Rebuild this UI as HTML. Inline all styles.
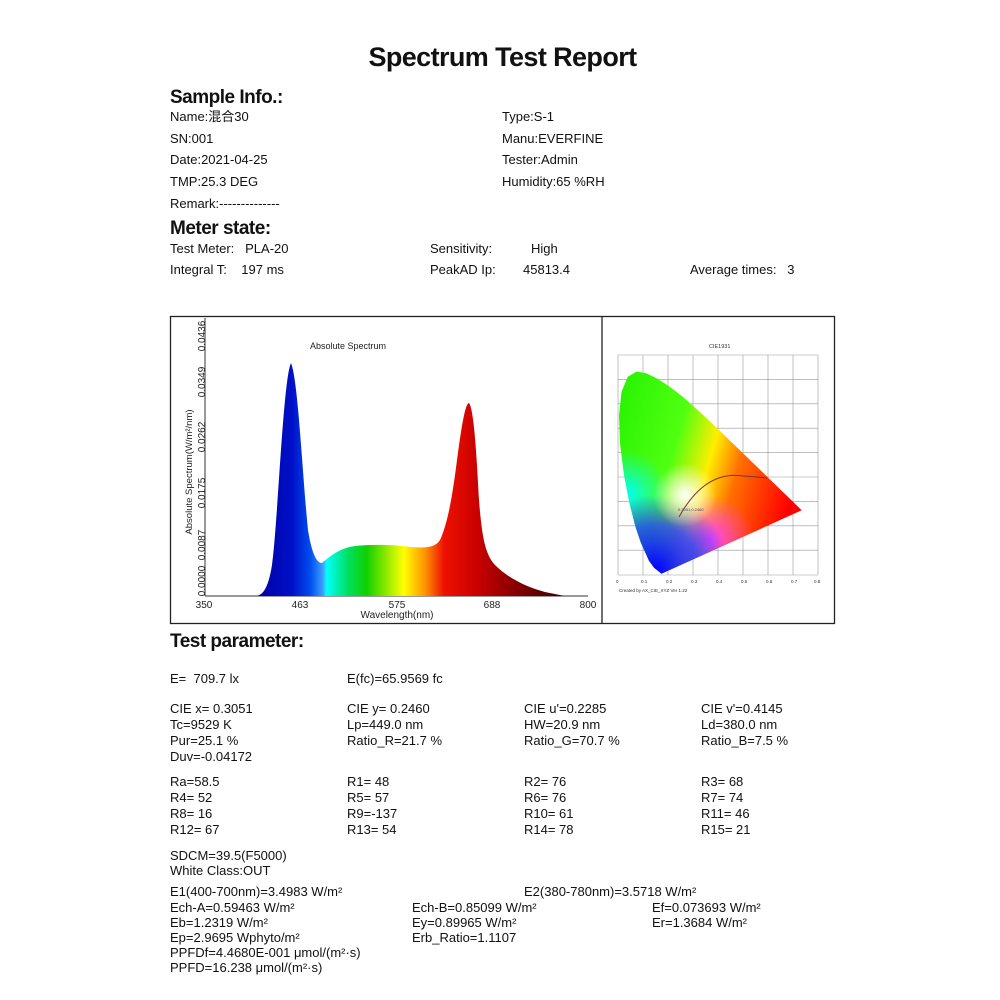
<!DOCTYPE html>
<html><head><meta charset="utf-8"><style>
body{margin:0;background:#fff;}
#p{position:relative;width:1000px;height:1000px;overflow:hidden;background:#fff;font-family:"Liberation Sans","Noto Sans CJK SC",sans-serif;color:#111;}
.t{position:absolute;font-size:13px;line-height:16px;white-space:nowrap;}
.h{position:absolute;font-size:19px;font-weight:bold;line-height:22px;white-space:nowrap;letter-spacing:-0.5px}
</style></head><body><div id="p">
<div style="position:absolute;left:0;width:1005px;top:41px;text-align:center;font-size:27px;line-height:32px;font-weight:bold;letter-spacing:-0.6px">Spectrum Test Report</div>
<div class="h" style="left:170px;top:87px">Sample Info.:</div>
<div class="t" style="left:170px;top:109px">Name:混合30</div>
<div class="t" style="left:170px;top:131px">SN:001</div>
<div class="t" style="left:170px;top:152px">Date:2021-04-25</div>
<div class="t" style="left:170px;top:174px">TMP:25.3 DEG</div>
<div class="t" style="left:170px;top:196px">Remark:--------------</div>
<div class="t" style="left:502px;top:109px">Type:S-1</div>
<div class="t" style="left:502px;top:131px">Manu:EVERFINE</div>
<div class="t" style="left:502px;top:152px">Tester:Admin</div>
<div class="t" style="left:502px;top:174px">Humidity:65 %RH</div>
<div class="h" style="left:170px;top:218px">Meter state:</div>
<div class="t" style="left:170px;top:241px">Test Meter:&nbsp;&nbsp;&nbsp;PLA-20</div>
<div class="t" style="left:170px;top:262px">Integral T:&nbsp;&nbsp;&nbsp;&nbsp;197 ms</div>
<div class="t" style="left:430px;top:241px">Sensitivity:</div><div class="t" style="left:531px;top:241px">High</div>
<div class="t" style="left:430px;top:262px">PeakAD Ip:</div><div class="t" style="left:523px;top:262px">45813.4</div>
<div class="t" style="left:690px;top:262px">Average times:&nbsp;&nbsp;&nbsp;3</div>

<svg style="position:absolute;left:0;top:0" width="1000" height="1000">
<defs>
<linearGradient id="sg" gradientUnits="userSpaceOnUse" x1="255" y1="0" x2="565" y2="0">
<stop offset="0" stop-color="#0000a0"/><stop offset="0.12" stop-color="#0010c8"/><stop offset="0.18" stop-color="#0050f0"/><stop offset="0.22" stop-color="#40a0ff"/><stop offset="0.23" stop-color="#00ffff"/><stop offset="0.3" stop-color="#00e060"/><stop offset="0.36" stop-color="#10d000"/><stop offset="0.44" stop-color="#b0f000"/><stop offset="0.48" stop-color="#ffff00"/><stop offset="0.55" stop-color="#ff9000"/><stop offset="0.61" stop-color="#ee1000"/><stop offset="0.72" stop-color="#c80000"/><stop offset="0.85" stop-color="#800000"/><stop offset="1" stop-color="#400000"/>
</linearGradient>
<clipPath id="hs"><path d="M661.5,573.8 L654,567.8 649,560.9 640.8,542.6 635.2,526 629.4,503 623.9,474.3 620,443.6 619,415.2 621.5,392 627.7,376.9 636.6,371.5 646.6,373.4 656.7,378.4 666.2,384.3 675.4,391 684.5,398.3 693.4,406.1 702.3,414.2 711.3,422.6 720.2,431.1 729,439.7 737.7,448.1 746.1,456.3 754.2,464.1 761.8,471.5 768.7,478.3 774.8,484.1 780,489.3 784.5,493.5 790.9,499.8 801.7,510.3 Z"/></clipPath>
<linearGradient id="cg" x1="0" y1="0" x2="1" y2="0.3"><stop offset="0" stop-color="#20f000"/><stop offset="0.4" stop-color="#50ff10"/><stop offset="0.58" stop-color="#ffee00"/><stop offset="0.72" stop-color="#ff7000"/><stop offset="1" stop-color="#ff0000"/></linearGradient>
<radialGradient id="cb" cx="655" cy="570" r="75" gradientUnits="userSpaceOnUse"><stop offset="0" stop-color="#0000ff"/><stop offset="0.6" stop-color="#2040ff" stop-opacity="0.8"/><stop offset="1" stop-color="#2040ff" stop-opacity="0"/></radialGradient>
<radialGradient id="cc" cx="625" cy="495" r="45" gradientUnits="userSpaceOnUse"><stop offset="0" stop-color="#00ffff"/><stop offset="1" stop-color="#00ffff" stop-opacity="0"/></radialGradient>
<radialGradient id="cm" cx="710" cy="540" r="45" gradientUnits="userSpaceOnUse"><stop offset="0" stop-color="#ff40ff"/><stop offset="1" stop-color="#ff40ff" stop-opacity="0"/></radialGradient>
<radialGradient id="cw" cx="685" cy="495" r="32" gradientUnits="userSpaceOnUse"><stop offset="0" stop-color="#ffffff"/><stop offset="1" stop-color="#ffffff" stop-opacity="0"/></radialGradient>
</defs>
<rect x="170.5" y="316.5" width="664" height="307" fill="none" stroke="#222" stroke-width="1.3"/>
<line x1="602" y1="316" x2="602" y2="624" stroke="#222" stroke-width="1.3"/>
<line x1="205" y1="318" x2="205" y2="596" stroke="#333"/>
<line x1="205" y1="596" x2="588" y2="596" stroke="#333"/>
<path d="M255,596 C262,596 268,590 272,565 C278,520 283,380 291,363 C298,380 302,470 308,530 C312,555 317,563 322,563 C330,556 340,548 355,546 C375,544 395,545 410,547 C425,548 435,548 440,540 C447,525 452,500 457,460 C461,430 465,403 469,403 C473,408 476,440 479,500 C482,540 486,555 495,565 C510,580 530,588 545,592 C555,594 560,595 565,596 Z" fill="url(#sg)"/>
<text x="310" y="349" font-size="9" fill="#222" font-family="Liberation Sans">Absolute Spectrum</text>
<g font-size="10" fill="#222" font-family="Liberation Sans">
<text x="204" y="608" text-anchor="middle">350</text><text x="300" y="608" text-anchor="middle">463</text><text x="397" y="608" text-anchor="middle">575</text><text x="492" y="608" text-anchor="middle">688</text><text x="588" y="608" text-anchor="middle">800</text>
<text x="397" y="618" text-anchor="middle">Wavelength(nm)</text>
<g transform="rotate(-90)">
<text x="-581" y="205" text-anchor="middle">0.0000</text><text x="-545" y="205" text-anchor="middle">0.0087</text><text x="-493" y="205" text-anchor="middle">0.0175</text><text x="-437" y="205" text-anchor="middle">0.0262</text><text x="-382" y="205" text-anchor="middle">0.0349</text><text x="-336" y="205" text-anchor="middle">0.0436</text>
<text x="-472" y="192" text-anchor="middle" font-size="9.5">Absolute Spectrum(W/m²/nm)</text>
</g></g>
<g stroke="#999" stroke-width="0.6">
<path d="M618,355V575M643,355V575M668,355V575M693,355V575M718,355V575M743,355V575M768,355V575M793,355V575M818,355V575"/>
<path d="M618,355H818M618,379.4H818M618,403.8H818M618,428.2H818M618,452.6H818M618,477H818M618,501.4H818M618,525.8H818M618,550.2H818M618,575H818"/>
</g>
<g clip-path="url(#hs)">
<rect x="610" y="365" width="200" height="215" fill="url(#cg)"/>
<rect x="610" y="365" width="200" height="215" fill="url(#cc)"/>
<rect x="610" y="365" width="200" height="215" fill="url(#cm)"/>
<rect x="610" y="365" width="200" height="215" fill="url(#cb)"/>
<rect x="610" y="365" width="200" height="215" fill="url(#cw)"/>
</g>
<path d="M679,517 Q705,470 743,476 Q758,477 767,478" fill="none" stroke="#803030" stroke-width="1"/>
<text x="678" y="511" font-size="4" fill="#446">0.3051,0.2460</text>
<g font-size="4.5" fill="#333" font-family="Liberation Sans"><text x="709" y="348" font-size="5.5">CIE1931</text>
<text x="616" y="583">0</text><text x="641" y="583">0.1</text><text x="666" y="583">0.2</text><text x="691" y="583">0.3</text><text x="716" y="583">0.4</text><text x="741" y="583">0.5</text><text x="766" y="583">0.6</text><text x="791" y="583">0.7</text><text x="814" y="583">0.8</text>
<text x="619" y="592">Created by AX_CIE_XYZ Ver 1.22</text></g>
</svg>

<div class="h" style="left:170px;top:631px">Test parameter:</div>
<div class="t" style="left:170px;top:671px">E=&nbsp;&nbsp;709.7 lx</div>
<div class="t" style="left:347px;top:671px">E(fc)=65.9569 fc</div>
<div class="t" style="left:170px;top:701px">CIE x= 0.3051</div><div class="t" style="left:347px;top:701px">CIE y= 0.2460</div><div class="t" style="left:524px;top:701px">CIE u'=0.2285</div><div class="t" style="left:701px;top:701px">CIE v'=0.4145</div>
<div class="t" style="left:170px;top:717px">Tc=9529 K</div><div class="t" style="left:347px;top:717px">Lp=449.0 nm</div><div class="t" style="left:524px;top:717px">HW=20.9 nm</div><div class="t" style="left:701px;top:717px">Ld=380.0 nm</div>
<div class="t" style="left:170px;top:733px">Pur=25.1 %</div><div class="t" style="left:347px;top:733px">Ratio_R=21.7 %</div><div class="t" style="left:524px;top:733px">Ratio_G=70.7 %</div><div class="t" style="left:701px;top:733px">Ratio_B=7.5 %</div>
<div class="t" style="left:170px;top:749px">Duv=-0.04172</div>
<div class="t" style="left:170px;top:774px">Ra=58.5</div><div class="t" style="left:347px;top:774px">R1= 48</div><div class="t" style="left:524px;top:774px">R2= 76</div><div class="t" style="left:701px;top:774px">R3= 68</div>
<div class="t" style="left:170px;top:790px">R4= 52</div><div class="t" style="left:347px;top:790px">R5= 57</div><div class="t" style="left:524px;top:790px">R6= 76</div><div class="t" style="left:701px;top:790px">R7= 74</div>
<div class="t" style="left:170px;top:806px">R8= 16</div><div class="t" style="left:347px;top:806px">R9=-137</div><div class="t" style="left:524px;top:806px">R10= 61</div><div class="t" style="left:701px;top:806px">R11= 46</div>
<div class="t" style="left:170px;top:822px">R12= 67</div><div class="t" style="left:347px;top:822px">R13= 54</div><div class="t" style="left:524px;top:822px">R14= 78</div><div class="t" style="left:701px;top:822px">R15= 21</div>
<div class="t" style="left:170px;top:848px">SDCM=39.5(F5000)</div>
<div class="t" style="left:170px;top:863px">White Class:OUT</div>
<div class="t" style="left:170px;top:884px">E1(400-700nm)=3.4983 W/m²</div><div class="t" style="left:524px;top:884px">E2(380-780nm)=3.5718 W/m²</div>
<div class="t" style="left:170px;top:900px">Ech-A=0.59463 W/m²</div><div class="t" style="left:412px;top:900px">Ech-B=0.85099 W/m²</div><div class="t" style="left:652px;top:900px">Ef=0.073693 W/m²</div>
<div class="t" style="left:170px;top:915px">Eb=1.2319 W/m²</div><div class="t" style="left:412px;top:915px">Ey=0.89965 W/m²</div><div class="t" style="left:652px;top:915px">Er=1.3684 W/m²</div>
<div class="t" style="left:170px;top:930px">Ep=2.9695 Wphyto/m²</div><div class="t" style="left:412px;top:930px">Erb_Ratio=1.1107</div>
<div class="t" style="left:170px;top:945px">PPFDf=4.4680E-001 μmol/(m²·s)</div>
<div class="t" style="left:170px;top:960px">PPFD=16.238 μmol/(m²·s)</div>
</div></body></html>
